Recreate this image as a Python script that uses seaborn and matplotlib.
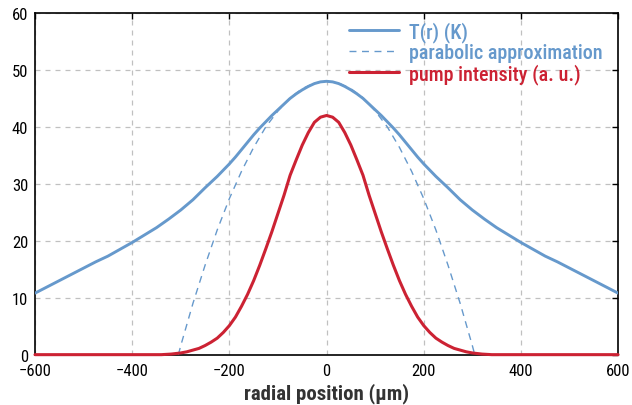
import matplotlib
matplotlib.use("Agg")
import matplotlib.pyplot as plt
import seaborn as sns
import pandas as pd
from matplotlib import font_manager

# ---- data (right half; the curves are symmetric about r = 0) ----
r_T_half = [0, 12.5, 25, 37.5, 50, 62.5, 75, 87.5, 100, 112.5, 125, 137.5, 150, 162.5, 175, 187.5, 200,
            225, 250, 275, 300, 325, 350, 375, 400, 425, 450, 475, 500, 525, 550, 575, 600]
T_half = [48.0, 47.9, 47.6, 47.1, 46.5, 45.8, 45.0, 44.0, 43.0, 42.0, 40.9, 39.8, 38.6, 37.3, 36.0, 34.7, 33.5,
          31.3, 29.3, 27.2, 25.4, 23.8, 22.3, 21.0, 19.7, 18.5, 17.3, 16.3, 15.2, 14.1, 13.0, 11.9, 10.8]

r_par_half = [0, 25, 50, 75, 100, 125, 150, 175, 200, 225, 250, 275, 300, 305]
par_half = [48.0, 47.7, 46.7, 45.1, 42.8, 40.0, 36.4, 32.2, 27.4, 21.9, 15.7, 9.0, 1.6, 0.0]

r_pump_half = [0, 12.5, 25, 37.5, 50, 62.5, 75, 87.5, 100, 112.5, 125, 137.5, 150, 162.5, 175, 187.5, 200,
               212.5, 225, 237.5, 250, 262.5, 275, 287.5, 300, 320, 340, 600]
pump_half = [42.0, 41.7, 40.8, 39.0, 36.8, 34.2, 31.5, 28.0, 24.8, 21.6, 18.6, 15.7, 13.0, 10.6, 8.5, 6.6, 5.1,
             3.9, 2.9, 2.2, 1.6, 1.1, 0.8, 0.5, 0.3, 0.1, 0.0, 0.0]

labels = ["T(r) (K)", "parabolic approximation", "pump intensity (a. u.)"]
x_ticks = [-600, -400, -200, 0, 200, 400, 600]
y_ticks = [0, 10, 20, 30, 40, 50, 60]

BLUE = "#6699cc"
RED = "#cc2233"


def mirror(r, v):
    rr = [-x for x in r[:0:-1]] + list(r)
    vv = list(v[:0:-1]) + list(v)
    return pd.DataFrame({"r": rr, "v": vv})


sns.set_theme(style="white")
avail = {f.name for f in font_manager.fontManager.ttflist}
fam = [f for f in ["Roboto Condensed", "Liberation Sans Narrow"] if f in avail]
plt.rcParams["font.family"] = fam + ["DejaVu Sans"]

fig = plt.figure(figsize=(6.32, 4.06), dpi=100)
ax = fig.add_axes([0.0554, 0.124, 0.9226, 0.8416])

dfT = mirror(r_T_half, T_half)
dfP = mirror(r_par_half, par_half)
dfI = mirror(r_pump_half, pump_half)

sns.lineplot(data=dfP, x="r", y="v", ax=ax, color=BLUE, lw=1.0, linestyle=(0, (5, 4)),
             label=labels[1], zorder=3, sort=True)
sns.lineplot(data=dfT, x="r", y="v", ax=ax, color=BLUE, lw=2.1, label=labels[0], zorder=4, sort=True)
sns.lineplot(data=dfI, x="r", y="v", ax=ax, color=RED, lw=2.2, label=labels[2], zorder=5, sort=True)
ax.lines[-1].set_clip_on(False)

ax.set_xlim(-600, 600)
ax.set_ylim(0, 60)
ax.set_xticks(x_ticks)
ax.set_yticks(y_ticks)
ax.grid(True, color="#c0c0c0", linestyle=(0, (4, 4)), lw=0.9)
ax.set_axisbelow(True)
for s in ax.spines.values():
    s.set_visible(True)
    s.set_color("black")
    s.set_linewidth(1.2)
ax.tick_params(direction="in", length=4, width=1, top=True, right=True, labelsize=12,
               colors="black")
ax.tick_params(axis="x", pad=6)
ax.tick_params(axis="y", pad=5)
ax.set_xlabel("radial position (µm)", fontsize=15, color="#333333", fontweight="bold", labelpad=3)
ax.set_ylabel("")

h, l = ax.get_legend_handles_labels()
order = [l.index(x) for x in labels]
leg = ax.legend([h[i] for i in order], [l[i] for i in order], loc="upper right",
                bbox_to_anchor=(1 - 5 / 583, 1 + 2 / 342),
                frameon=False, handlelength=2.5, handletextpad=0.5,
                labelspacing=0.05, borderaxespad=0.1,
                prop={"weight": "medium", "size": 14.5})
for txt, c in zip(leg.get_texts(), [BLUE, BLUE, RED]):
    txt.set_color(c)

fig.savefig("out.png", dpi=100)
